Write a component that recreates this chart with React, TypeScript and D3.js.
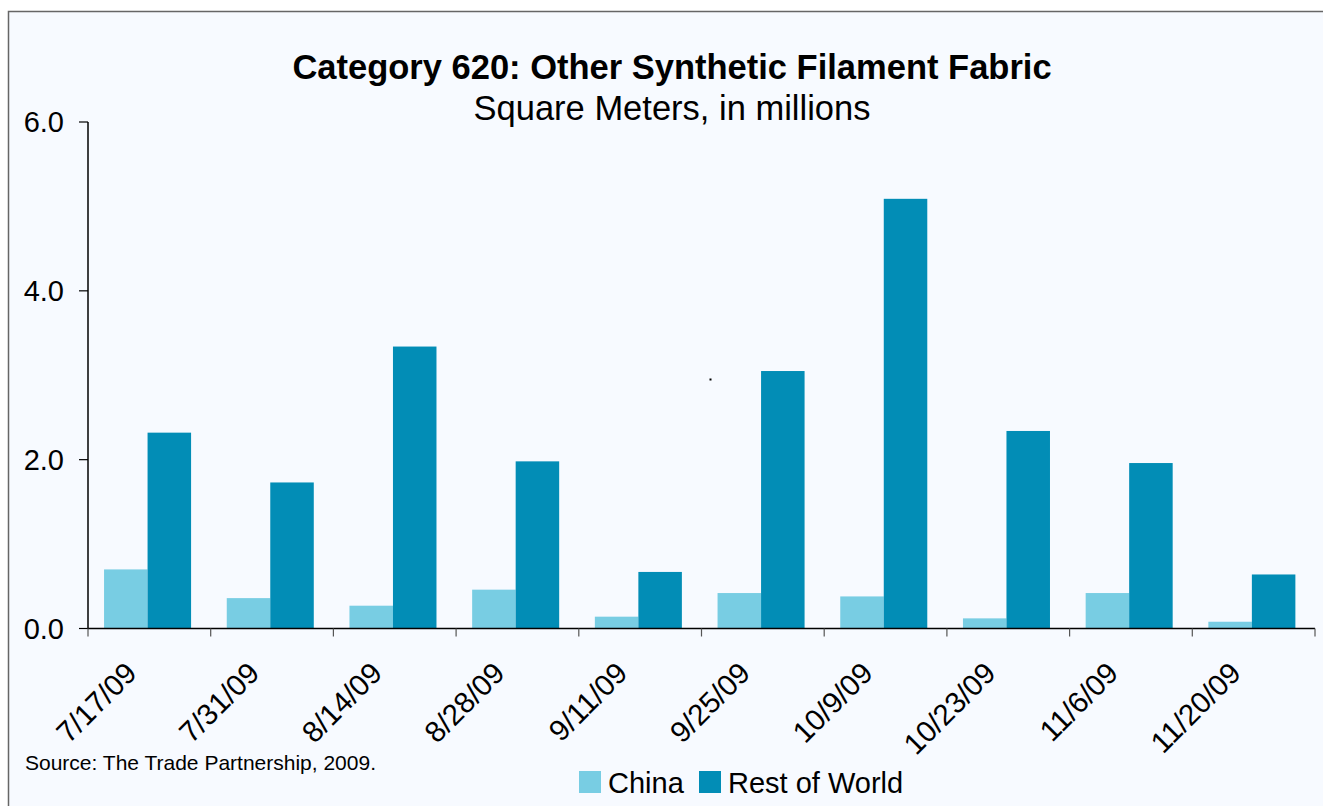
import * as React from 'react'
import { useEffect, useRef } from 'react'
import * as d3 from 'd3'

const weeks = ['7/17/09', '7/31/09', '8/14/09', '8/28/09', '9/11/09', '9/25/09', '10/9/09', '10/23/09', '11/6/09', '11/20/09']
const seriesNames = ['China', 'Rest of World']
const china = [0.70, 0.36, 0.27, 0.46, 0.14, 0.42, 0.38, 0.12, 0.42, 0.08]
const restOfWorld = [2.32, 1.73, 3.34, 1.98, 0.67, 3.05, 5.09, 2.34, 1.96, 0.64]
const yTicks = [0, 2, 4, 6]
const colors = ['#78cde3', '#028db6']

const W = 1323
const H = 806
const FONT = 'Arial, "Liberation Sans", sans-serif'

const App = () => {
  const chartRef = useRef(null)

  useEffect(() => {
    const svg = d3.select(chartRef.current)
    svg.selectAll('*').remove()

    const rows = weeks.map((w, i) => ({ week: w, values: [china[i], restOfWorld[i]] }))

    const x0 = d3.scaleBand().domain(weeks).range([88, 1315]).padding(0)
    const x1 = d3.scaleBand().domain(seriesNames).range([0, x0.bandwidth()])
      .paddingInner(0).paddingOuter(0.41).align(0.45)
    const y = d3.scaleLinear().domain([0, 6]).range([628.5, 122])

    // frame
    svg.append('rect').attr('x', 0).attr('y', 0).attr('width', W).attr('height', H).attr('fill', '#ffffff')
    svg.append('rect')
      .attr('x', 8.5).attr('y', 11.5).attr('width', W + 10).attr('height', H + 10)
      .attr('fill', '#f7faff').attr('stroke', '#666').attr('stroke-width', 1.5)

    // titles
    svg.append('text')
      .attr('x', 672).attr('y', 79)
      .attr('text-anchor', 'middle')
      .style('font-family', FONT).style('font-weight', 'bold').style('font-size', '34.5px')
      .text('Category 620: Other Synthetic Filament Fabric')
    svg.append('text')
      .attr('x', 672).attr('y', 120)
      .attr('text-anchor', 'middle')
      .style('font-family', FONT).style('font-size', '34.5px')
      .text('Square Meters, in millions')

    // bars
    const groups = svg.append('g').selectAll('g')
      .data(rows)
      .enter()
      .append('g')
      .attr('transform', d => `translate(${x0(d.week)},0)`)

    groups.selectAll('rect')
      .data(d => d.values.map((v, i) => ({ key: seriesNames[i], value: v, idx: i })))
      .enter()
      .append('rect')
      .attr('x', d => x1(d.key))
      .attr('y', d => y(d.value))
      .attr('width', x1.bandwidth())
      .attr('height', d => y(0) - y(d.value))
      .attr('fill', d => colors[d.idx])

    // y axis
    const yAxis = svg.append('g')
    yAxis.append('line')
      .attr('x1', 88).attr('x2', 88).attr('y1', y(6)).attr('y2', y(0))
      .attr('stroke', '#000').attr('stroke-width', 1.5)
    yAxis.selectAll('line.tick')
      .data(yTicks)
      .enter()
      .append('line')
      .attr('class', 'tick')
      .attr('x1', 79).attr('x2', 88)
      .attr('y1', d => y(d)).attr('y2', d => y(d))
      .attr('stroke', '#000').attr('stroke-width', 1.2)
    yAxis.selectAll('text')
      .data(yTicks)
      .enter()
      .append('text')
      .attr('x', 64)
      .attr('y', d => y(d))
      .attr('dy', '0.35em')
      .attr('text-anchor', 'end')
      .style('font-family', FONT).style('font-size', '29px')
      .text(d => d.toFixed(1))

    // x axis
    const xAxis = svg.append('g')
    xAxis.append('line')
      .attr('x1', 88).attr('x2', 1315).attr('y1', y(0)).attr('y2', y(0))
      .attr('stroke', '#000').attr('stroke-width', 1.5)
    const boundaries = weeks.map(w => x0(w)).concat([x0.range()[1]])
    xAxis.selectAll('line.tick')
      .data(boundaries)
      .enter()
      .append('line')
      .attr('class', 'tick')
      .attr('x1', d => d).attr('x2', d => d)
      .attr('y1', y(0)).attr('y2', y(0) + 8)
      .attr('stroke', '#555').attr('stroke-width', 1.2)
    xAxis.selectAll('text')
      .data(weeks)
      .enter()
      .append('text')
      .attr('transform', d => `translate(${x0(d) + x0.bandwidth() / 2 - 11},675) rotate(-45)`)
      .attr('text-anchor', 'end')
      .style('font-family', FONT).style('font-size', '29.5px')
      .text(d => d)

    // stray dot in the original
    svg.append('rect').attr('x', 709.5).attr('y', 378.5).attr('width', 2).attr('height', 2).attr('fill', '#000')

    // source
    svg.append('text')
      .attr('x', 25).attr('y', 770)
      .style('font-family', FONT).style('font-size', '21px')
      .text('Source: The Trade Partnership, 2009.')

    // legend
    const legendX = [579, 699]
    const legend = svg.append('g').selectAll('g')
      .data(seriesNames)
      .enter()
      .append('g')
      .attr('transform', (d, i) => `translate(${legendX[i]},771)`)
    legend.append('rect')
      .attr('width', 22).attr('height', 22)
      .attr('fill', (d, i) => colors[i])
    legend.append('text')
      .attr('x', 29).attr('y', 22)
      .style('font-family', FONT).style('font-size', '29px')
      .text(d => d)
  }, [])

  return (
    <svg ref={chartRef} width={W} height={H} style={{ position: 'absolute', left: 0, top: 0 }}></svg>
  )
}

export default App
